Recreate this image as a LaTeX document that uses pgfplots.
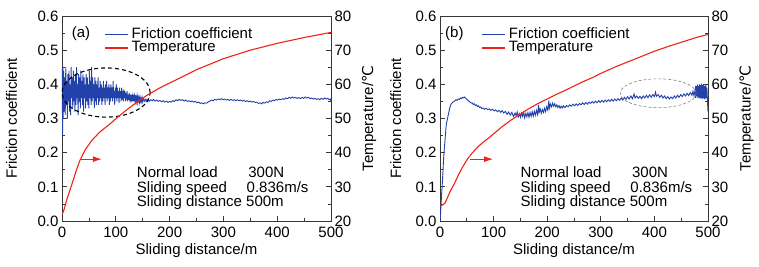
\documentclass[border=0pt]{standalone}
\usepackage{fontspec}
\setmainfont{Liberation Sans}
\newfontfamily\dejavu{DejaVu Sans}
\usepackage{pgfplots}
\pgfplotsset{compat=1.18}
\usetikzlibrary{arrows.meta}
\definecolor{fblue}{RGB}{35,65,170}
\definecolor{tred}{RGB}{240,35,25}
\definecolor{axgray}{RGB}{55,55,55}
\newcommand{\ff}{\fontsize{15}{15}\selectfont}
\pgfplotsset{
 base/.style={scale only axis, height=205pt, xmin=0, xmax=500,
   xtick={0,100,200,300,400,500}, minor x tick num=1,
   tick align=inside, major tick length=5pt, minor tick length=3pt,
   every tick/.style={axgray, line width=0.8pt},
   axis line style={axgray, line width=0.9pt},
   tick label style={font=\ff}, xticklabel style={yshift=-2pt},
   /pgf/number format/assume math mode=true},
 fric/.style={base, ymin=0, ymax=0.6, ytick={0,0.1,0.2,0.3,0.4,0.5,0.6},
   minor y tick num=1, xtick pos=bottom, ytick pos=left,
   yticklabel style={/pgf/number format/fixed, /pgf/number format/fixed zerofill, /pgf/number format/precision=1},
   xlabel={Sliding distance/m}, ylabel={Friction coefficient},
   every axis x label/.style={at={(axis description cs:0.5,-0.165)}, anchor=base, font=\ff},
   legend style={draw=none, fill=none, anchor=north west, inner sep=0pt, outer sep=0pt,
     row sep=0pt, column sep=3pt, font=\ff, nodes={inner sep=0pt, text height=10.7pt, text depth=3pt}},
   legend cell align=left,
   legend image code/.code={\draw[##1] (0pt,0pt) -- (23pt,0pt);}},
 temp/.style={base, ymin=20, ymax=80, ytick={20,30,40,50,60,70,80}, minor y tick num=1,
   axis y line*=right, hide x axis, ylabel={Temperature/{\dejavu ℃}}},
}
\begin{document}
\begin{tikzpicture}
\useasboundingbox (0,0) rectangle (759pt,266pt);
% ---------------- panel (a)
\begin{axis}[fric, width=269pt, at={(62pt,45pt)}, anchor=south west,
  every axis y label/.style={at={(axis description cs:-0.188,0.5)}, anchor=center, rotate=90, font=\ff},
  legend style={at={(axis description cs:0.158,0.944)}}]
\addplot[fblue, line width=0.9pt] coordinates {
(0,0.35)(0.5,0.45)(1,0.25)(1.5,0.45)(2,0.30)(3,0.44)(4,0.32)(5,0.42)(6,0.31)(7,0.45)(8,0.34)(9,0.41)(10,0.30)
(11,0.43)(12,0.35)(13,0.44)(14,0.32)(15,0.40)(16,0.31)(17,0.45)(18,0.36)(19,0.42)(20,0.33)
(21,0.44)(22,0.35)(23,0.41)(24,0.32)(25,0.43)(26,0.34)(27,0.45)(28,0.36)(29,0.40)(30,0.31)
(31,0.43)(32,0.35)(33,0.42)(34,0.33)(35,0.44)(36,0.36)(37,0.41)(38,0.34)(39,0.43)(40,0.32)
(41,0.42)(42,0.36)(43,0.40)(44,0.33)(45,0.43)(46,0.35)(47,0.42)(48,0.34)(49,0.40)(50,0.33)
(51,0.44)(52,0.36)(53,0.41)(54,0.34)(55,0.45)(56,0.35)(57,0.42)(58,0.36)(59,0.40)(60,0.33)
(61,0.42)(62,0.35)(63,0.41)(64,0.34)(65,0.40)(66,0.36)(67,0.42)(68,0.34)(69,0.39)(70,0.35)
(71,0.41)(72,0.36)(73,0.40)(74,0.34)(75,0.39)(76,0.35)(77,0.41)(78,0.36)(79,0.39)(80,0.34)
(81,0.40)(82,0.36)(83,0.41)(84,0.35)(85,0.39)(86,0.36)(87,0.40)(88,0.34)(89,0.39)(90,0.35)
(91,0.40)(92,0.36)(93,0.39)(94,0.35)(95,0.41)(96,0.36)(97,0.38)(98,0.34)(99,0.39)(100,0.36)
(101,0.40)(102,0.35)(103,0.39)(104,0.36)(105,0.38)(106,0.345)(107,0.39)(108,0.36)(109,0.38)(110,0.35)
(111,0.39)(112,0.355)(113,0.38)(114,0.35)(115,0.385)(116,0.36)(117,0.38)(118,0.35)(119,0.375)(120,0.355)
(121,0.38)(122,0.35)(123,0.37)(124,0.355)(125,0.375)(126,0.35)(127,0.37)(128,0.355)(129,0.37)(130,0.35)
(131,0.365)(132,0.35)(133,0.37)(134,0.35)(135,0.365)(136,0.352)(137,0.368)(138,0.35)(139,0.362)(140,0.348)
(141,0.365)(142,0.352)(143,0.36)(144,0.348)(145,0.362)(146,0.35)(147,0.358)(148,0.35)(149,0.36)(150,0.348)
(152,0.358)(154,0.35)(156,0.357)(158,0.349)(160,0.356)(162,0.35)(165,0.355)(168,0.352)(170,0.356)
(173,0.351)(176,0.354)(179,0.35)(182,0.353)(185,0.349)(188,0.352)(191,0.348)(194,0.351)(197,0.347)
(200,0.35)(203,0.348)(206,0.352)(209,0.35)(212,0.355)(215,0.352)(218,0.356)(221,0.353)(224,0.355)
(227,0.351)(230,0.354)(233,0.35)(236,0.352)(239,0.349)(242,0.351)(245,0.348)(248,0.35)(251,0.346)
(254,0.348)(257,0.344)(260,0.346)(263,0.343)(266,0.346)(269,0.345)(272,0.349)(275,0.351)(278,0.354)
(281,0.352)(284,0.356)(287,0.354)(290,0.357)(293,0.355)(296,0.358)(299,0.355)(302,0.357)(305,0.354)
(308,0.356)(311,0.353)(314,0.356)(317,0.353)(320,0.355)(323,0.352)(326,0.355)(329,0.352)(332,0.354)
(335,0.351)(338,0.353)(341,0.35)(344,0.352)(347,0.349)(350,0.351)(353,0.348)(356,0.35)(359,0.347)
(362,0.348)(365,0.344)(368,0.346)(371,0.343)(374,0.347)(377,0.345)(380,0.349)(383,0.347)(386,0.352)
(389,0.35)(392,0.354)(395,0.352)(398,0.356)(401,0.354)(404,0.357)(407,0.355)(410,0.358)(413,0.356)
(416,0.36)(419,0.358)(422,0.362)(425,0.359)(428,0.363)(431,0.36)(434,0.362)(437,0.359)(440,0.361)
(443,0.358)(446,0.362)(449,0.359)(452,0.363)(455,0.36)(458,0.362)(461,0.358)(464,0.36)(467,0.357)
(470,0.359)(473,0.356)(476,0.358)(479,0.355)(482,0.359)(485,0.356)(488,0.36)(491,0.357)(494,0.359)
(497,0.355)(499,0.357)(500,0.35)
};
\addlegendentry{Friction coefficient}
\addlegendimage{tred, line width=1.1pt}
\addlegendentry{Temperature}
\node[anchor=base west, inner sep=0pt, font=\ff] at (axis cs:18,0.536) {(a)};
\node[anchor=base west, inner sep=0pt, font=\ff] at (axis cs:139,0.126) {Normal load};
\node[anchor=base west, inner sep=0pt, font=\ff] at (axis cs:346,0.126) {300N};
\node[anchor=base west, inner sep=0pt, font=\ff] at (axis cs:139,0.083) {Sliding speed};
\node[anchor=base west, inner sep=0pt, font=\ff] at (axis cs:343,0.083) {0.836m/s};
\node[anchor=base west, inner sep=0pt, font=\ff] at (axis cs:139,0.041) {Sliding distance 500m};
\draw[black, line width=1.1pt, dash pattern=on 4pt off 3pt] (axis cs:82,0.376) ellipse [x radius=44.1pt, y radius=24.6pt];
\draw[tred, line width=1pt, -{Latex[length=9pt,width=6pt]}] (axis cs:33.5,0.181) -- (axis cs:74,0.181);
\end{axis}
\begin{axis}[temp, width=269pt, at={(62pt,45pt)}, anchor=south west,
  every axis y label/.style={at={(axis description cs:1.142,0.5)}, anchor=center, rotate=90, font=\ff}]
\addplot[tred, line width=1.1pt] coordinates {
(0,22)(1,22.3)(2.5,22.7)(5,24)(8.7,26.1)(15,29.2)(21,32)(27,35)(33.5,37.8)(43,40.8)(55,43.5)
(70,46)(89,48.4)(105,50.6)(120,52.5)(140,54.9)(157,56.7)(180,58.8)(200,60.4)(216,61.6)
(250,64.3)(300,67.5)(350,70)(400,72)(450,73.7)(500,75.2)
};
\end{axis}
% ---------------- panel (b)
\begin{axis}[fric, width=268pt, at={(440pt,45pt)}, anchor=south west,
  every axis y label/.style={at={(axis description cs:-0.165,0.5)}, anchor=center, rotate=90, font=\ff},
  legend style={at={(axis description cs:0.156,0.944)}}]
\addplot[fblue, line width=0.9pt] coordinates {
(0,0.0)(1,0.02)(2,0.05)(3,0.08)(4,0.10)(5,0.13)(6,0.16)(7,0.19)(8,0.21)(9,0.23)(10,0.25)(11,0.27)
(12,0.285)(14,0.30)(16,0.315)(18,0.33)(20,0.34)(22,0.345)(24,0.348)(26,0.35)(28,0.352)(30,0.355)
(32,0.353)(34,0.357)(36,0.356)(38,0.36)(40,0.358)(42,0.362)(44,0.36)(46,0.363)(48,0.359)(50,0.356)
(52,0.354)(54,0.35)(56,0.348)(58,0.345)(60,0.346)(62,0.341)(64,0.343)(66,0.338)(68,0.34)(70,0.335)
(72,0.337)(74,0.332)(76,0.334)(78,0.329)(80,0.331)(83,0.327)(86,0.33)(89,0.326)(92,0.328)(95,0.324)
(98,0.327)(101,0.322)(104,0.325)(107,0.32)(110,0.324)(113,0.318)(116,0.323)(119,0.316)(122,0.321)
(125,0.312)(128,0.319)(131,0.31)(134,0.318)(137,0.306)(140,0.316)(142,0.308)(144,0.319)(146,0.305)
(148,0.314)(150,0.303)(152,0.316)(154,0.306)(156,0.318)(158,0.302)(160,0.315)(162,0.305)(164,0.317)
(166,0.304)(168,0.318)(170,0.306)(172,0.32)(174,0.307)(176,0.321)(178,0.31)(180,0.324)(182,0.312)
(184,0.34)(185,0.318)(187,0.328)(189,0.315)(191,0.326)(193,0.318)(195,0.33)(197,0.32)(199,0.334)
(201,0.325)(203,0.352)(204,0.33)(206,0.342)(208,0.334)(210,0.345)(212,0.336)(214,0.343)(216,0.334)
(218,0.34)(220,0.332)(222,0.338)(224,0.33)(226,0.336)(228,0.331)(230,0.337)(233,0.332)(236,0.338)
(239,0.334)(242,0.34)(245,0.336)(248,0.342)(251,0.337)(254,0.343)(257,0.338)(260,0.344)(263,0.34)
(266,0.346)(269,0.341)(272,0.347)(275,0.342)(278,0.348)(281,0.344)(284,0.35)(287,0.345)(290,0.351)
(293,0.346)(296,0.352)(299,0.347)(302,0.353)(305,0.348)(308,0.354)(311,0.349)(314,0.355)(317,0.35)
(320,0.356)(323,0.351)(326,0.357)(329,0.352)(332,0.358)(335,0.353)(338,0.36)(341,0.354)(344,0.362)
(347,0.356)(350,0.364)(353,0.357)(356,0.366)(359,0.358)(362,0.372)(364,0.36)(367,0.366)(370,0.359)
(373,0.365)(376,0.358)(379,0.366)(382,0.36)(385,0.368)(388,0.361)(391,0.369)(394,0.362)(397,0.37)
(400,0.364)(402,0.377)(404,0.365)(407,0.37)(410,0.362)(413,0.368)(416,0.36)(419,0.366)(422,0.358)
(425,0.364)(428,0.357)(431,0.363)(434,0.358)(437,0.366)(440,0.36)(443,0.368)(446,0.362)(449,0.37)
(452,0.364)(455,0.372)(458,0.366)(461,0.374)(464,0.367)(467,0.376)(470,0.368)(472,0.38)(474,0.366)
(476,0.385)(477,0.36)(478,0.395)(479,0.365)(480,0.40)(481,0.36)(482,0.395)(483,0.362)(484,0.40)
(485,0.358)(486,0.398)(487,0.36)(488,0.402)(489,0.357)(490,0.398)(491,0.36)(492,0.40)(493,0.356)
(494,0.395)(495,0.358)(496,0.40)(497,0.36)(498,0.39)(499,0.35)(500,0.32)
};
\addlegendentry{Friction coefficient}
\addlegendimage{tred, line width=1.1pt}
\addlegendentry{Temperature}
\node[anchor=base west, inner sep=0pt, font=\ff] at (axis cs:9.3,0.536) {(b)};
\node[anchor=base west, inner sep=0pt, font=\ff] at (axis cs:150,0.126) {Normal load};
\node[anchor=base west, inner sep=0pt, font=\ff] at (axis cs:358,0.126) {300N};
\node[anchor=base west, inner sep=0pt, font=\ff] at (axis cs:150,0.083) {Sliding speed};
\node[anchor=base west, inner sep=0pt, font=\ff] at (axis cs:355,0.083) {0.836m/s};
\node[anchor=base west, inner sep=0pt, font=\ff] at (axis cs:150,0.041) {Sliding distance 500m};
\draw[gray, line width=0.6pt, dash pattern=on 3pt off 2pt] (axis cs:407,0.374) ellipse [x radius=38pt, y radius=14.4pt];
\draw[tred, line width=1pt, -{Latex[length=9pt,width=6pt]}] (axis cs:56,0.181) -- (axis cs:99,0.181);
\end{axis}
\begin{axis}[temp, width=268pt, at={(440pt,45pt)}, anchor=south west,
  every axis y label/.style={at={(axis description cs:1.144,0.5)}, anchor=center, rotate=90, font=\ff}]
\addplot[tred, line width=1.1pt] coordinates {
(0,24.7)(3,24.6)(6,24.8)(9,25.2)(13,26.5)(18,28.3)(22,29.6)(27,31)(33,33)(40,35.2)(46,36.8)
(52,38.3)(60,39.9)(70,41.6)(80,43)(90,44.2)(100,45.5)(115,47.5)(133,49.6)(150,51.3)(165,52.8)
(183,54.4)(200,55.7)(215,56.9)(233,58.2)(250,59.5)(270,61)(285,62)(300,63.2)(330,65.3)(367,67.6)
(400,69.7)(430,71.3)(460,72.8)(480,73.8)(500,74.6)
};
\end{axis}
\end{tikzpicture}
\end{document}
